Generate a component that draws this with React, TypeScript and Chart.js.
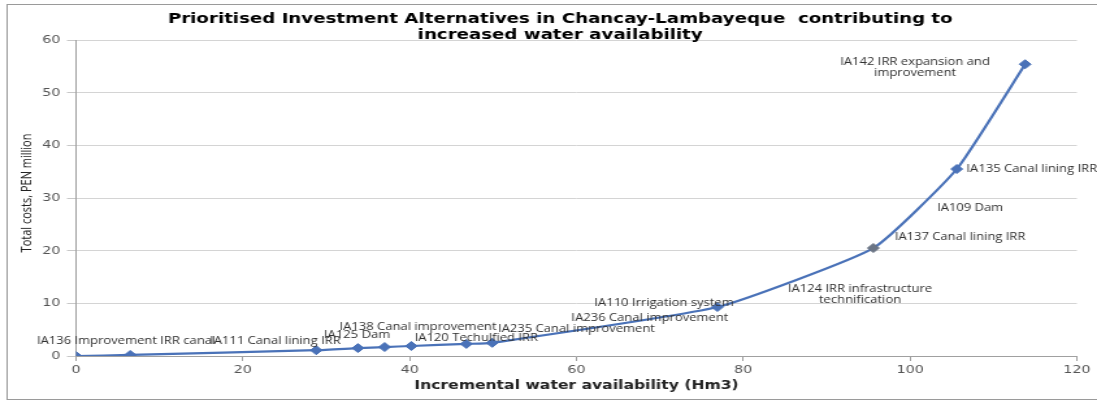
import React, { useEffect, useRef } from "react";
import { Chart, registerables } from "chart.js";

Chart.register(...registerables);

const chartTitle = [
  "Prioritised Investment Alternatives in Chancay-Lambayeque  contributing to",
  "increased water availability",
];
const xAxisTitle = "Incremental water availability (Hm3)";
const yAxisTitle = "Total costs, PEN million";

// series values
const waterAvailability = [0, 6.5, 28.8, 33.8, 37.0, 40.2, 46.8, 49.9, 76.9, 95.6, 105.6, 113.8];
const totalCosts = [0, 0.2, 1.1, 1.5, 1.7, 1.9, 2.3, 2.5, 9.3, 20.5, 35.5, 55.4];
const highlightedIndex = 9;

// data label texts and their anchor (data coordinates)
const annotationTexts: string[][] = [
  ["IA136 Improvement IRR canal"],
  ["IA111 Canal lining IRR"],
  ["IA125 Dam"],
  ["IA138 Canal improvement"],
  ["IA120 Techulfied IRR"],
  ["IA235 Canal improvement"],
  ["IA236 Canal improvement"],
  ["IA110 Irrigation system"],
  ["IA124 IRR infrastructure", "technification"],
  ["IA137 Canal lining IRR"],
  ["IA109 Dam"],
  ["IA135 Canal lining IRR"],
  ["IA142 IRR expansion and", "improvement"],
];
const annotationX = [6.0, 23.9, 33.7, 41.0, 48.0, 60.0, 68.8, 70.5, 94.0, 106.0, 107.2, 114.6, 100.6];
const annotationY = [2.85, 2.85, 4.0, 5.5, 3.4, 5.1, 7.2, 10.0, 11.6, 22.6, 28.1, 35.5, 54.8];

const xMin = 0, xMax = 120, xStep = 20;
const yMin = 0, yMax = 60, yStep = 10;

// the reference is horizontally stretched; draw narrower and stretch with CSS
const STRETCH = 1.3;
const OUT_W = 1097;
const OUT_H = 405;
const IN_W = Math.round(OUT_W / STRETCH);

const decorPlugin = {
  id: "decor",
  beforeDraw(chart: any) {
    const ctx = chart.ctx;
    ctx.save();
    ctx.fillStyle = "#ffffff";
    ctx.fillRect(0, 0, chart.width, chart.height);
    ctx.strokeStyle = "#9a9a9a";
    ctx.lineWidth = 1;
    ctx.strokeRect(5.5, 4.5, chart.width + 20, 395);
    ctx.restore();
  },
  afterDraw(chart: any) {
    const ctx = chart.ctx;
    const area = chart.chartArea;
    const xs = chart.scales.x;
    const ys = chart.scales.y;
    ctx.save();
    // title
    ctx.fillStyle = "#000000";
    ctx.font = "bold 14px 'DejaVu Sans', Verdana, sans-serif";
    ctx.textAlign = "center";
    ctx.textBaseline = "middle";
    const cx = (area.left + area.right) / 2 - 12.5;
    chartTitle.forEach((line, i) => ctx.fillText(line, cx, 19 + i * 16));
    // y axis title
    ctx.save();
    ctx.translate(21, (area.top + area.bottom) / 2 - 5);
    ctx.rotate(-Math.PI / 2);
    ctx.font = "11px 'Open Sans', sans-serif";
    ctx.fillStyle = "#222222";
    ctx.fillText(yAxisTitle, 0, 0);
    ctx.restore();
    // annotations
    ctx.font = "10px 'Open Sans', sans-serif";
    ctx.fillStyle = "#303030";
    annotationTexts.forEach((lines, i) => {
      const px = xs.getPixelForValue(annotationX[i]);
      const py = ys.getPixelForValue(annotationY[i]);
      const n = lines.length;
      lines.forEach((t, j) => {
        ctx.fillText(t, px, py + (j - (n - 1) / 2) * 11);
      });
    });
    ctx.restore();
  },
};

export default function App() {
  const canvasRef = useRef<HTMLCanvasElement | null>(null);

  useEffect(() => {
    if (!canvasRef.current) return;
    const points = waterAvailability.map((x, i) => ({ x, y: totalCosts[i] }));
    const pointColors = totalCosts.map((_, i) => (i === highlightedIndex ? "#6b7585" : "#4a72b8"));
    const chart = new Chart(canvasRef.current, {
      type: "scatter",
      data: {
        datasets: [
          {
            data: points,
            showLine: true,
            borderColor: "#4a72b8",
            borderWidth: 2.2,
            tension: 0.15,
            pointStyle: "rectRot",
            pointRadius: 4.5,
            pointBackgroundColor: pointColors,
            pointBorderColor: pointColors,
            pointBorderWidth: 1,
          } as any,
        ],
      },
      options: {
        animation: false,
        responsive: false,
        maintainAspectRatio: false,
        devicePixelRatio: 1,
        layout: { padding: { left: 0, right: IN_W - 828.5, top: 40, bottom: 12 } },
        plugins: {
          legend: { display: false },
          tooltip: { enabled: false },
          title: { display: false },
        },
        scales: {
          x: {
            type: "linear",
            min: xMin,
            max: xMax,
            ticks: {
              stepSize: xStep,
              color: "#555555",
              font: { family: "'DejaVu Sans', Verdana, sans-serif", size: 11 },
              padding: 3,
            },
            grid: {
              display: true,
              drawOnChartArea: false,
              drawTicks: true,
              tickLength: 5,
              color: "#a0a0a0",
            },
            border: { display: true, color: "#a0a0a0" },
            title: {
              display: true,
              text: xAxisTitle,
              color: "#222222",
              font: { family: "'DejaVu Sans', Verdana, sans-serif", size: 12, weight: "bold" },
              padding: { top: 2, bottom: 0 },
            },
            afterFit(scale: any) {
              scale.height = 37;
            },
          },
          y: {
            type: "linear",
            min: yMin,
            max: yMax,
            ticks: {
              stepSize: yStep,
              color: "#555555",
              font: { family: "'DejaVu Sans', Verdana, sans-serif", size: 11 },
              padding: 5,
            },
            grid: {
              color: "#d4d4d4",
              tickLength: 7,
              tickColor: "#c8c8c8",
            },
            border: { display: true, color: "#a0a0a0" },
            title: { display: false },
            afterFit(scale: any) {
              scale.width = 58.5;
            },
          },
        },
      },
      plugins: [decorPlugin],
    });
    return () => chart.destroy();
  }, []);

  return (
    <div style={{ position: "fixed", left: 0, top: 0, width: OUT_W, height: OUT_H, background: "#fff", overflow: "hidden" }}>
      <div style={{ width: IN_W, height: OUT_H, transform: `scaleX(${OUT_W / IN_W})`, transformOrigin: "0 0" }}>
        <canvas ref={canvasRef} width={IN_W} height={OUT_H} style={{ display: "block", width: IN_W, height: OUT_H }} />
      </div>
    </div>
  );
}
